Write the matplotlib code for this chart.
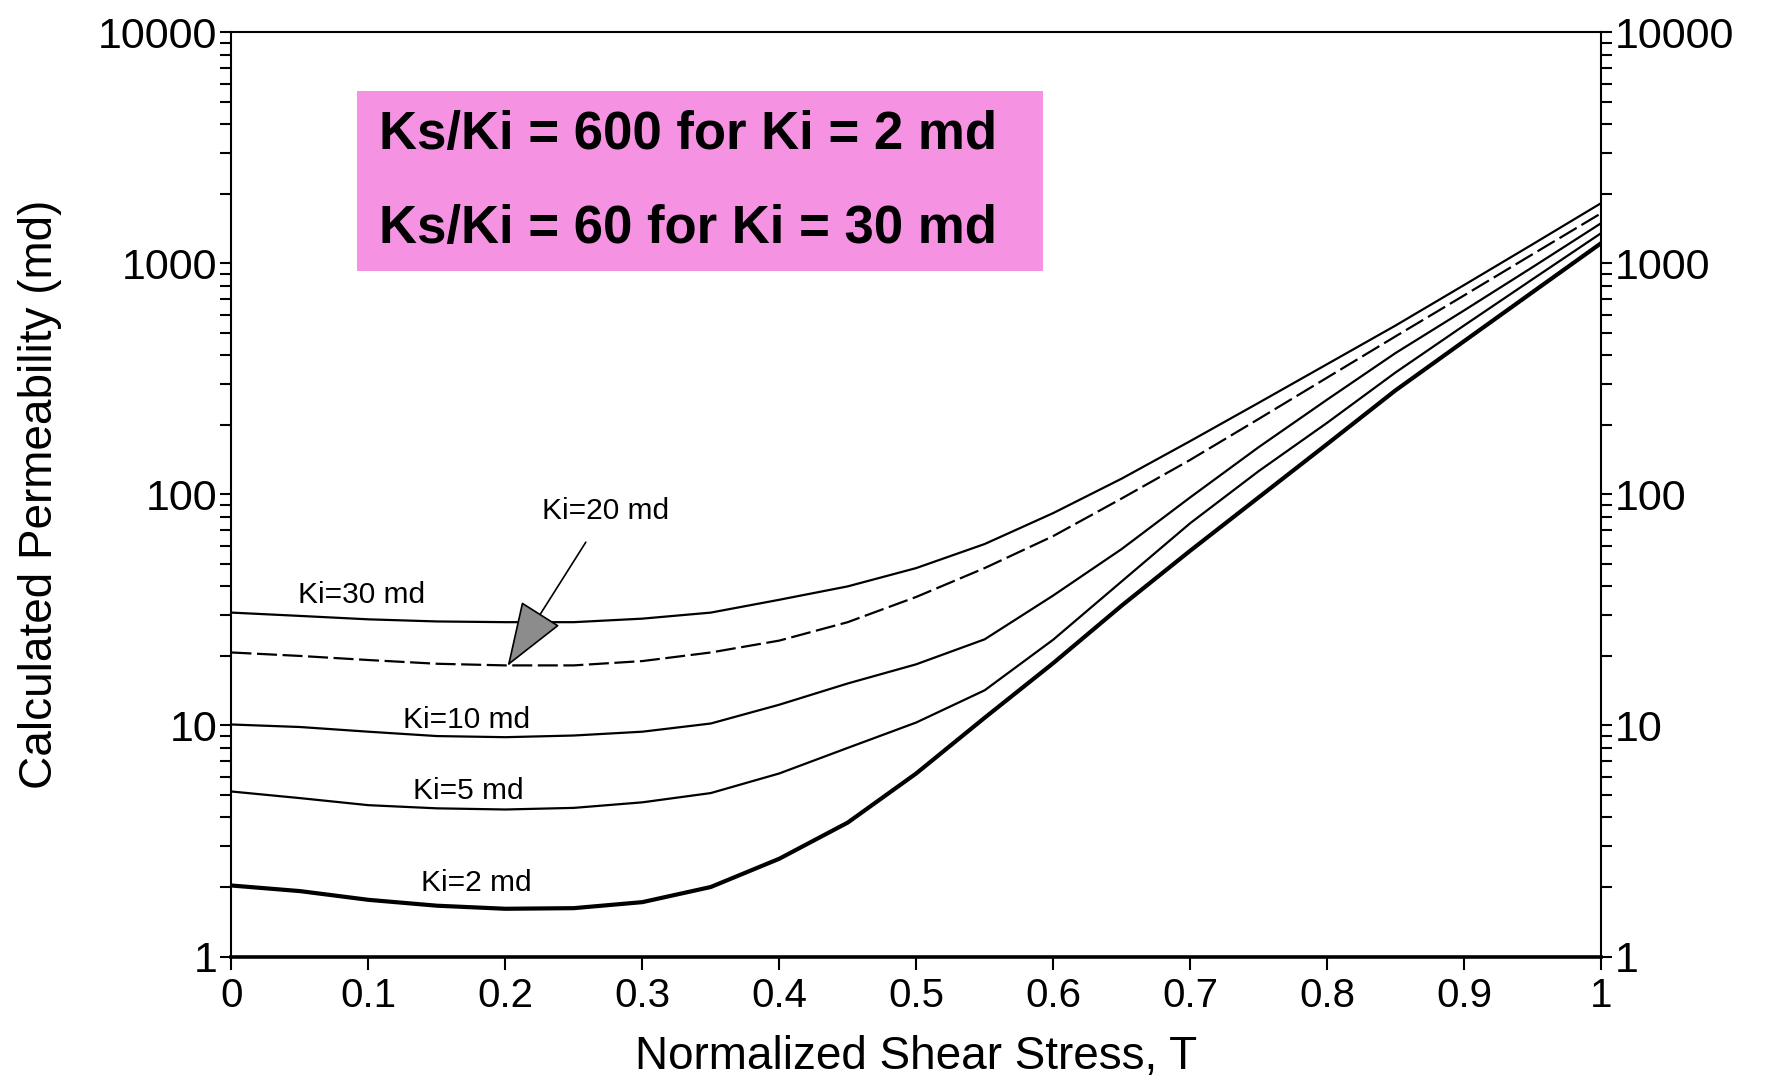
import matplotlib
matplotlib.use("Agg")
import matplotlib.pyplot as plt
from matplotlib import ticker
from matplotlib.patches import Rectangle

plt.rcParams['font.family'] = ['Liberation Sans', 'DejaVu Sans']

# normalized shear stress
T = [0, 0.05, 0.1, 0.15, 0.2, 0.25, 0.3, 0.35, 0.4, 0.45, 0.5,
     0.55, 0.6, 0.65, 0.7, 0.75, 0.8, 0.85, 0.9, 0.95, 1.0]

# calculated permeability (md) for each initial permeability Ki
k_30 = [30.8, 29.8, 28.8, 28.2, 28.0, 28.0, 29.0, 30.8, 35.0, 40.0, 48.0,
        61, 83, 117, 170, 249, 366, 538, 805, 1208, 1820]
k_20 = [20.7, 20.0, 19.2, 18.5, 18.2, 18.2, 19.0, 20.7, 23.3, 28.0, 36.0,
        48, 66, 96, 141, 212, 320, 483, 726, 1094, 1645]
k_10 = [10.1, 9.85, 9.4, 9.0, 8.9, 9.05, 9.4, 10.2, 12.3, 15.2, 18.4,
        23.6, 36.5, 58, 97, 160, 257, 409, 625, 962, 1490]
k_5 = [5.18, 4.85, 4.52, 4.38, 4.33, 4.4, 4.65, 5.1, 6.2, 8.0, 10.3,
       14.2, 23.5, 42, 75, 126, 204, 337, 538, 853, 1349]
k_2 = [2.03, 1.92, 1.76, 1.66, 1.61, 1.62, 1.72, 2.0, 2.65, 3.8, 6.2,
       10.8, 18.6, 33, 57, 97, 165, 282, 460, 750, 1221]

curve_labels = ['Ki=30 md', 'Ki=10 md', 'Ki=5 md', 'Ki=2 md']
label_x = [0.095, 0.172, 0.173, 0.179]
label_y = [36.8, 10.6, 5.2, 2.08]

box_lines = ['Ks/Ki = 600 for Ki = 2 md', 'Ks/Ki = 60 for Ki = 30 md']

fig = plt.figure(figsize=(17.67, 10.76), dpi=100)
ax = fig.add_axes([0.131, 0.111, 0.775, 0.859])

ax.plot(T, k_30, color='black', lw=1.6)
ax.plot(T, k_20, color='black', lw=1.6, dashes=(9, 2.5))
ax.plot(T, k_10, color='black', lw=1.6)
ax.plot(T, k_5, color='black', lw=1.6)
ax.plot(T, k_2, color='black', lw=3.0)

ax.set_yscale('log')
ax.set_xlim(0, 1)
ax.set_ylim(1, 10000)

ax.set_xticks([i / 10 for i in range(11)])
ax.xaxis.set_major_formatter(ticker.FuncFormatter(lambda v, p: f'{v:g}'))
ax.yaxis.set_major_formatter(ticker.FuncFormatter(lambda v, p: f'{v:g}'))
ax.yaxis.set_minor_locator(ticker.LogLocator(base=10, subs=range(2, 10)))
ax.yaxis.set_minor_formatter(ticker.NullFormatter())

ax.tick_params(axis='x', which='major', direction='out', length=9, width=1.5,
               labelsize=29, pad=6, top=False)
ax.tick_params(axis='y', which='both', direction='out', length=8, width=1.5,
               left=True, right=True, labelleft=True, labelright=True)
ax.tick_params(axis='y', which='major', labelsize=31, pad=2)

for s in ['left', 'right', 'top']:
    ax.spines[s].set_linewidth(1.5)
ax.spines['bottom'].set_linewidth(2.6)

ax.set_xlabel('Normalized Shear Stress, T', fontsize=33, labelpad=14)
ax.set_ylabel('Calculated Permeability (md)', fontsize=33, labelpad=26)

for txt, x, y in zip(curve_labels, label_x, label_y):
    ax.text(x, y, txt, fontsize=21.5, ha='center', va='center')

ax.annotate('Ki=20 md', xy=(0.2016, 18.1), xytext=(0.273, 84.5),
            fontsize=21.5, ha='center', va='center',
            arrowprops=dict(arrowstyle='-|>,head_length=2.1,head_width=0.75',
                            mutation_scale=20, fc='#8c8c8c', ec='black',
                            lw=1.2, shrinkA=12, shrinkB=0))

ax.add_patch(Rectangle((0.0913, 0.742), 0.501, 0.195, transform=ax.transAxes,
                       facecolor='#f592e2', edgecolor='none', zorder=3))
ax.text(0.108, 0.889, box_lines[0], transform=ax.transAxes, fontsize=38,
        fontweight='bold', ha='left', va='center', zorder=4)
ax.text(0.108, 0.787, box_lines[1], transform=ax.transAxes, fontsize=38,
        fontweight='bold', ha='left', va='center', zorder=4)

fig.savefig('out.png', dpi=100)
